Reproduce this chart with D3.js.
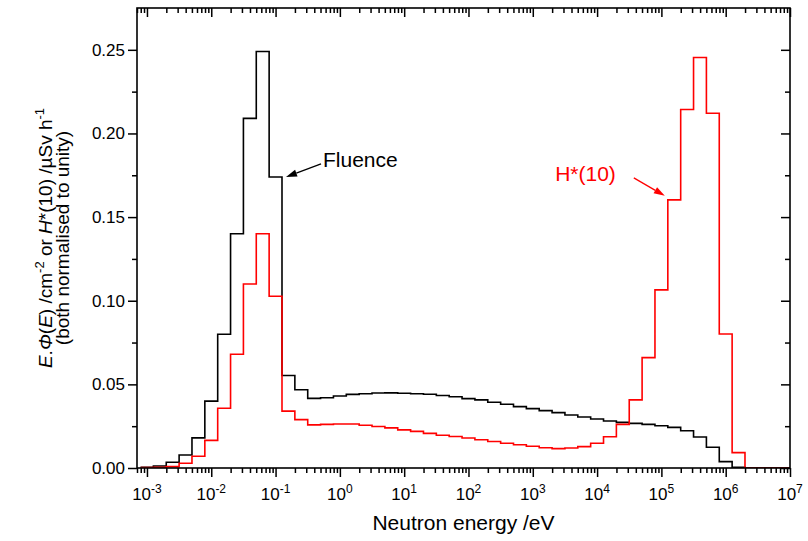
<!DOCTYPE html>
<html>
<head>
<meta charset="utf-8">
<script src="https://cdn.jsdelivr.net/npm/d3@7/dist/d3.min.js"></script>
<style>
  html, body { margin: 0; padding: 0; background: #fff; }
  svg { display: block; font-family: "Liberation Sans", Arial, Helvetica, sans-serif; }
</style>
</head>
<body>
<svg id="chart" width="808" height="541"></svg>
<script>
// Lower edge of each energy bin, as log10(E / eV); every bin is 0.2 decades wide
const binLowerLogE = [
  -3.1, -2.9, -2.7, -2.5, -2.3, -2.1, -1.9, -1.7, -1.5, -1.3,
  -1.1, -0.9, -0.7, -0.5, -0.3, -0.1, 0.1, 0.3, 0.5, 0.7,
  0.9, 1.1, 1.3, 1.5, 1.7, 1.9, 2.1, 2.3, 2.5, 2.7,
  2.9, 3.1, 3.3, 3.5, 3.7, 3.9, 4.1, 4.3, 4.5, 4.7,
  4.9, 5.1, 5.3, 5.5, 5.7, 5.9, 6.1, 6.3, 6.5, 6.7, 6.9
];
const binWidthLogE = 0.2;

// Lethargy fluence spectrum E.Φ(E), normalised to unity
const fluence = [
  0.0004, 0.0012, 0.0034, 0.0078, 0.0180, 0.0400, 0.0800, 0.1400, 0.2090, 0.2490,
  0.1740, 0.0553, 0.0468, 0.0416, 0.0420, 0.0430, 0.0440, 0.0444, 0.0448, 0.0449,
  0.0447, 0.0444, 0.0441, 0.0433, 0.0426, 0.0415, 0.0407, 0.0393, 0.0381, 0.0367,
  0.0355, 0.0343, 0.0331, 0.0317, 0.0305, 0.0293, 0.0281, 0.0273, 0.0267, 0.0261,
  0.0253, 0.0243, 0.0223, 0.0185, 0.0124, 0.0038, 0.0004, 0, 0, 0, 0
];

// Ambient dose equivalent H*(10) per bin, normalised to unity
const hStar10 = [
  0.0002, 0.0004, 0.0008, 0.0028, 0.0070, 0.0165, 0.0357, 0.0680, 0.1100, 0.1400,
  0.1027, 0.0340, 0.0289, 0.0258, 0.0261, 0.0263, 0.0263, 0.0256, 0.0248, 0.0240,
  0.0228, 0.0219, 0.0207, 0.0196, 0.0188, 0.0179, 0.0169, 0.0158, 0.0148, 0.0139,
  0.0130, 0.0121, 0.0116, 0.0120, 0.0128, 0.0148, 0.0187, 0.0261, 0.0407, 0.0660,
  0.1065, 0.1603, 0.2143, 0.2454, 0.2121, 0.0801, 0.0092, 0, 0, 0, 0
];

// Axis ticks
const xMajorExp = [-3, -2, -1, 0, 1, 2, 3, 4, 5, 6, 7];
const yMajorTicks = [0, 0.05, 0.10, 0.15, 0.20, 0.25];
const yMinorTicks = [0.025, 0.075, 0.125, 0.175, 0.225];

const xDomain = [7e-4, 1e7];
const yDomain = [0, 0.275];

const plot = { left: 137, right: 790, top: 8, bottom: 468 };
const FONT_TICK = 17;
const FONT_TITLE = 21;

const svg = d3.select("#chart");

const x = d3.scaleLog().domain(xDomain).range([plot.left, plot.right]);
const y = d3.scaleLinear().domain(yDomain).range([plot.bottom, plot.top]);

// minor log ticks: 2..9 times each decade that fall inside the domain
const xMinor = [];
for (let e = -4; e <= 6; e++) {
  for (let m = 2; m <= 9; m++) {
    const v = m * Math.pow(10, e);
    if (v >= xDomain[0] && v <= xDomain[1]) xMinor.push(v);
  }
}
const xMajor = xMajorExp.map(e => Math.pow(10, e));

function styleAxis(g) {
  g.select(".domain").remove();
  g.selectAll(".tick line").attr("stroke", "#000").attr("stroke-width", 1.5);
}

// bottom: outward ticks
svg.append("g").attr("transform", `translate(0,${plot.bottom})`)
  .call(d3.axisBottom(x).tickValues(xMinor).tickSize(5).tickFormat(""))
  .call(styleAxis);
svg.append("g").attr("transform", `translate(0,${plot.bottom})`)
  .call(d3.axisBottom(x).tickValues(xMajor).tickSize(9).tickFormat(""))
  .call(styleAxis);
// top: inward ticks
svg.append("g").attr("transform", `translate(0,${plot.top})`)
  .call(d3.axisBottom(x).tickValues(xMinor).tickSize(5).tickFormat(""))
  .call(styleAxis);
svg.append("g").attr("transform", `translate(0,${plot.top})`)
  .call(d3.axisBottom(x).tickValues(xMajor).tickSize(9).tickFormat(""))
  .call(styleAxis);

// left: outward ticks with labels
svg.append("g").attr("transform", `translate(${plot.left},0)`)
  .call(d3.axisLeft(y).tickValues(yMinorTicks).tickSize(5).tickFormat(""))
  .call(styleAxis);
const yAxisG = svg.append("g").attr("transform", `translate(${plot.left},0)`)
  .call(d3.axisLeft(y).tickValues(yMajorTicks).tickSize(9).tickPadding(3).tickFormat(d3.format(".2f")))
  .call(styleAxis);
yAxisG.selectAll(".tick text")
  .attr("font-family", "Liberation Sans, Arial, sans-serif")
  .attr("font-size", FONT_TICK).attr("fill", "#000");

// right: inward ticks
svg.append("g").attr("transform", `translate(${plot.right},0)`)
  .call(d3.axisLeft(y).tickValues(yMinorTicks).tickSize(5).tickFormat(""))
  .call(styleAxis);
svg.append("g").attr("transform", `translate(${plot.right},0)`)
  .call(d3.axisLeft(y).tickValues(yMajorTicks).tickSize(9).tickFormat(""))
  .call(styleAxis);

// x tick labels: powers of ten
const xLabels = svg.append("g").attr("font-size", FONT_TICK).attr("fill", "#000");
xMajorExp.forEach(e => {
  const t = xLabels.append("text")
    .attr("x", x(Math.pow(10, e)))
    .attr("y", plot.bottom + 32)
    .attr("text-anchor", "middle");
  t.append("tspan").text("10");
  t.append("tspan").attr("dy", -7).attr("font-size", 12).text(String(e));
});

// step outlines of the two histograms
const clip = svg.append("clipPath").attr("id", "plot-clip");
clip.append("rect")
  .attr("x", plot.left).attr("y", plot.top)
  .attr("width", plot.right - plot.left).attr("height", plot.bottom - plot.top);

function stepPoints(values) {
  const pts = binLowerLogE.map((e, i) => [Math.pow(10, e), values[i]]);
  const last = binLowerLogE.length - 1;
  pts.push([Math.pow(10, binLowerLogE[last] + binWidthLogE), values[last]]);
  return pts;
}
const stepLine = d3.line()
  .x(d => x(d[0])).y(d => y(d[1]))
  .curve(d3.curveStepAfter);

const series = [
  { name: "Fluence", values: fluence, color: "#000000" },
  { name: "H*(10)", values: hStar10, color: "#ff0000" }
];
svg.append("g").attr("clip-path", "url(#plot-clip)")
  .selectAll("path").data(series).join("path")
  .attr("d", d => stepLine(stepPoints(d.values)))
  .attr("fill", "none")
  .attr("stroke", d => d.color)
  .attr("stroke-width", 1.6)
  .attr("stroke-linejoin", "miter");

// frame
svg.append("rect")
  .attr("x", plot.left).attr("y", plot.top)
  .attr("width", plot.right - plot.left).attr("height", plot.bottom - plot.top)
  .attr("fill", "none").attr("stroke", "#000").attr("stroke-width", 1.6);

// annotation arrows pointing at a bin's step
function arrow(from, to, color) {
  const g = svg.append("g");
  const dx = to[0] - from[0], dy = to[1] - from[1];
  const len = Math.hypot(dx, dy), ux = dx / len, uy = dy / len;
  const headL = 11, headW = 3.5;
  const bx = to[0] - ux * headL, by = to[1] - uy * headL;
  g.append("line")
    .attr("x1", from[0]).attr("y1", from[1]).attr("x2", bx).attr("y2", by)
    .attr("stroke", color).attr("stroke-width", 1.3);
  g.append("path")
    .attr("d", `M${to[0]},${to[1]}L${bx - uy * headW},${by + ux * headW}L${bx + uy * headW},${by - ux * headW}Z`)
    .attr("fill", color);
}

// Fluence label: points at the step after the thermal peak
const fIdx = 10;
const fTip = [x(Math.pow(10, binLowerLogE[fIdx] + binWidthLogE)) + 4, y(fluence[fIdx])];
arrow([fTip[0] + 35, fTip[1] - 13], fTip, "#000");
svg.append("text")
  .attr("x", fTip[0] + 37).attr("y", fTip[1] - 10)
  .attr("font-size", FONT_TITLE).attr("fill", "#000")
  .text("Fluence");

// H*(10) label: points at the rising edge of the fast peak
const hIdx = 41;
const hTip = [x(Math.pow(10, binLowerLogE[hIdx])) - 3, y(hStar10[hIdx]) - 4];
arrow([hTip[0] - 31, hTip[1] - 18], hTip, "#ff0000");
svg.append("text")
  .attr("x", hTip[0] - 49).attr("y", hTip[1] - 15)
  .attr("text-anchor", "end")
  .attr("font-size", FONT_TITLE).attr("fill", "#ff0000")
  .text("H*(10)");

// axis titles
svg.append("text")
  .attr("x", (plot.left + plot.right) / 2).attr("y", 530)
  .attr("text-anchor", "middle")
  .attr("font-size", FONT_TITLE).attr("fill", "#000")
  .text("Neutron energy /eV");

const yMid = (plot.top + plot.bottom) / 2;
const yt1 = svg.append("text")
  .attr("transform", `translate(52,${yMid}) rotate(-90)`)
  .attr("text-anchor", "middle")
  .attr("font-size", 19).attr("fill", "#000");
yt1.append("tspan").attr("font-style", "italic").text("E");
yt1.append("tspan").text(".");
yt1.append("tspan").attr("font-style", "italic").text("Φ");
yt1.append("tspan").text("(");
yt1.append("tspan").attr("font-style", "italic").text("E");
yt1.append("tspan").text(") /cm");
yt1.append("tspan").attr("dy", -8).attr("font-size", 13).text("-2");
yt1.append("tspan").attr("dy", 8).text(" or ");
yt1.append("tspan").attr("font-style", "italic").text("H");
yt1.append("tspan").text("*(10) /µSv h");
yt1.append("tspan").attr("dy", -8).attr("font-size", 13).text("-1");

svg.append("text")
  .attr("transform", `translate(69,${yMid}) rotate(-90)`)
  .attr("text-anchor", "middle")
  .attr("font-size", 19).attr("fill", "#000")
  .text("(both normalised to unity)");
</script>
</body>
</html>
